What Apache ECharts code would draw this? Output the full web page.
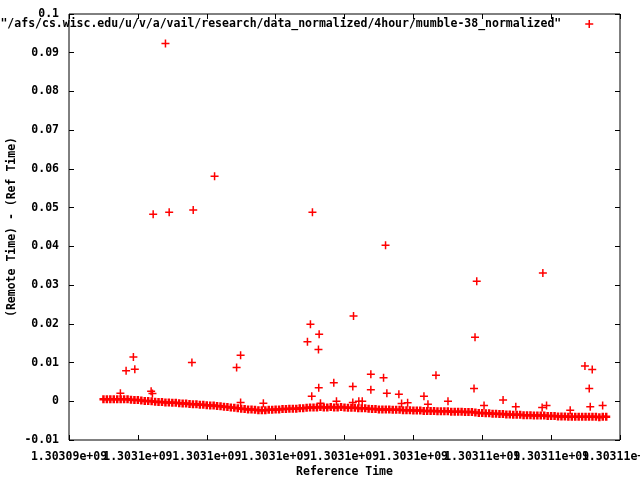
<!DOCTYPE html>
<html>
<head>
<meta charset="utf-8">
<script src="https://cdn.jsdelivr.net/npm/echarts@6/dist/echarts.min.js"></script>
<style>html,body{margin:0;padding:0;background:#fff}#c{width:640px;height:480px}</style>
</head>
<body>
<div id="c"></div>
<script>
// Reference time base (seconds) and axis ticks
var timeBase = 1303094000;
var xMin = 1303094000, xMax = 1303110000, xStep = 2000;
var yMin = -0.01, yMax = 0.1, yStep = 0.01;
var seriesName = '"/afs/cs.wisc.edu/u/v/a/vail/research/data_normalized/4hour/mumble-38_normalized"';

// Dense band: sample offsets (s from timeBase) start/step and values
var bandStartOffset = 1000, bandStepSec = 100;
var bandValues = [
  0.0005,0.0005,0.0005,0.0005,0.0005,0.0005,0.0005,0.0005,
  0.0004,0.0003,0.0003,0.0002,
  0.0001,0.0001,0.0000,-0.0001,-0.0002,
  -0.0002,-0.0003,-0.0003,-0.0004,-0.0004,
  -0.0005,-0.0006,-0.0006,-0.0007,-0.0008,
  -0.0008,-0.0009,-0.0009,-0.0010,-0.0011,
  -0.0011,-0.0012,-0.0013,-0.0014,-0.0015,
  -0.0016,-0.0017,-0.0018,-0.0019,-0.0020,
  -0.0021,-0.0021,-0.0022,-0.0023,-0.0023,
  -0.0023,-0.0022,-0.0022,-0.0021,-0.0021,
  -0.0020,-0.0020,-0.0019,-0.0019,-0.0019,
  -0.0018,-0.0018,-0.0017,-0.0016,-0.0016,
  -0.0016,-0.0015,-0.0016,-0.0016,-0.0015,
  -0.0016,-0.0016,-0.0015,-0.0016,-0.0017,
  -0.0017,-0.0017,-0.0018,-0.0018,-0.0018,
  -0.0019,-0.0020,-0.0020,-0.0021,-0.0021,
  -0.0021,-0.0021,-0.0022,-0.0022,-0.0022,
  -0.0023,-0.0023,-0.0023,-0.0024,-0.0024,
  -0.0024,-0.0025,-0.0025,-0.0025,-0.0025,
  -0.0026,-0.0026,-0.0026,-0.0026,-0.0027,
  -0.0027,-0.0027,-0.0027,-0.0028,-0.0028,
  -0.0028,-0.0029,-0.0030,-0.0030,-0.0031,
  -0.0031,-0.0032,-0.0032,-0.0033,-0.0033,
  -0.0034,-0.0034,-0.0035,-0.0035,-0.0035,
  -0.0036,-0.0036,-0.0036,-0.0037,-0.0037,
  -0.0037,-0.0037,-0.0038,-0.0038,-0.0038,
  -0.0039,-0.0039,-0.0039,-0.0040,-0.0040,
  -0.0040,-0.0040,-0.0040,-0.0040,-0.0040,
  -0.0040,-0.0040,-0.0041,-0.0040,-0.0040
];

// Scattered points: offsets (s from timeBase) and values
var outlierOffsets = [1658,1870,1911,1492,2385,2423,2801,2444,2909,3607,3569,4227,4867,4983,4983,5644,
  6924,7011,7069,7049,7264,7244,7252,7302,7689,7767,8241,8241,8262,8416,8515,8765,8765,9134,9192,9230,
  9579,9658,9833,10307,10423,10656,11005,11761,11790,11840,12052,12605,12974,13739,13760,13867,14554,
  14982,15107,15136,15194,15496];
var outlierValues = [0.0079,0.0114,0.0083,0.0021,0.0026,0.0020,0.0924,0.0483,0.0488,0.0494,0.0100,0.0581,0.0087,0.0119,-0.0003,-0.0005,
  0.0154,0.0199,0.0488,0.0013,0.0173,0.0134,0.0035,-0.0005,0.0048,0.0000,0.0038,-0.0003,0.0220,0.0000,0.0000,0.0070,0.0030,0.0061,0.0403,0.0021,
  0.0018,-0.0006,-0.0004,0.0013,-0.0008,0.0067,0.0000,0.0033,0.0165,0.0310,-0.0011,0.0003,-0.0014,-0.0016,0.0331,-0.0011,-0.0023,
  0.0091,0.0033,-0.0014,0.0082,-0.0011];

var bandData = [];
for (var i = 0; i < bandValues.length; i++) bandData.push([timeBase + bandStartOffset + i * bandStepSec, bandValues[i]]);
var outlierData = [];
for (var j = 0; j < outlierOffsets.length; j++) outlierData.push([timeBase + outlierOffsets[j], outlierValues[j]]);

function gfmt(v) {
  var s = v.toExponential(5);
  var parts = s.split('e');
  var m = parts[0].replace(/0+$/, '').replace(/\.$/, '');
  var e = parseInt(parts[1], 10);
  var sign = e < 0 ? '-' : '+';
  var ae = Math.abs(e);
  return m + 'e' + sign + (ae < 10 ? '0' + ae : ae);
}

var FONT = '"DejaVu Sans Mono", monospace';
var plus = 'path://M0,4L8,4M4,0L4,8';
var red = '#ff0000';
var txt = {fontFamily: FONT, fontSize: 11.5, fontWeight: 'bold', color: '#000'};
var noLine = {show: false, onZero: false};
var tickIn = {show: true, inside: true, length: 5, lineStyle: {color: '#000'}};

// two label layers on the bottom: even ticks and odd ticks, so overlapping labels all show
function xLabelAxis(parity, withTicks, withName) {
  var ax = {
    type: 'value', min: xMin, max: xMax, interval: xStep, position: 'bottom', gridIndex: 0,
    axisLine: noLine,
    axisTick: withTicks ? tickIn : {show: false},
    axisLabel: Object.assign({
      show: true, margin: 11, hideOverlap: false, showMinLabel: true, showMaxLabel: true,
      formatter: function (v) {
        var idx = Math.round((v - xMin) / xStep);
        return idx % 2 === parity ? gfmt(v) : '';
      }
    }, txt),
    splitLine: {show: false}
  };
  if (withName) {
    ax.name = 'Reference Time';
    ax.nameLocation = 'middle';
    ax.nameGap = 26;
    ax.nameMoveOverlap = false;
    ax.nameTextStyle = txt;
  }
  return ax;
}

var chart = echarts.init(document.getElementById('c'), null, {renderer: 'canvas'});
chart.setOption({
  animation: false,
  backgroundColor: '#fff',
  grid: {left: 69, right: 20, top: 14, bottom: 40, containLabel: false, outerBoundsMode: 'none',
         show: true, borderColor: '#000', borderWidth: 1, backgroundColor: 'rgba(0,0,0,0)'},
  legend: {
    right: 46, top: 18, padding: 0, align: 'right',
    icon: plus, itemWidth: 8, itemHeight: 8,
    itemStyle: {color: 'rgba(0,0,0,0)', borderColor: red, borderWidth: 1.5},
    textStyle: Object.assign({padding: [0, 19, 0, 0]}, txt),
    data: [seriesName]
  },
  xAxis: [
    xLabelAxis(0, true, true),
    xLabelAxis(1, false, false),
    {
      type: 'value', min: xMin, max: xMax, interval: xStep, position: 'top',
      axisLine: noLine, axisTick: tickIn,
      axisLabel: {show: false}, splitLine: {show: false}
    }
  ],
  yAxis: [{
    type: 'value', min: yMin, max: yMax, interval: yStep, position: 'left',
    name: '(Remote Time) - (Ref Time)', nameLocation: 'middle', nameGap: 51, nameRotate: 90,
    nameMoveOverlap: false, nameTextStyle: txt,
    axisLine: noLine, axisTick: tickIn,
    axisLabel: Object.assign({show: true, margin: 10, formatter: function (v) { return String(+v.toFixed(4)); }}, txt),
    splitLine: {show: false}
  }, {
    type: 'value', min: yMin, max: yMax, interval: yStep, position: 'right',
    axisLine: noLine, axisTick: tickIn,
    axisLabel: {show: false}, splitLine: {show: false}
  }],
  series: [{
    name: seriesName,
    type: 'scatter',
    xAxisIndex: 0, yAxisIndex: 0,
    symbol: plus, symbolSize: 8,
    itemStyle: {color: 'rgba(0,0,0,0)', borderColor: red, borderWidth: 2.5, opacity: 1},
    emphasis: {disabled: true},
    data: bandData
  }, {
    name: seriesName,
    type: 'scatter',
    xAxisIndex: 0, yAxisIndex: 0,
    symbol: plus, symbolSize: 8,
    itemStyle: {color: 'rgba(0,0,0,0)', borderColor: red, borderWidth: 1.5, opacity: 1},
    emphasis: {disabled: true},
    data: outlierData
  }]
});
</script>
</body>
</html>
